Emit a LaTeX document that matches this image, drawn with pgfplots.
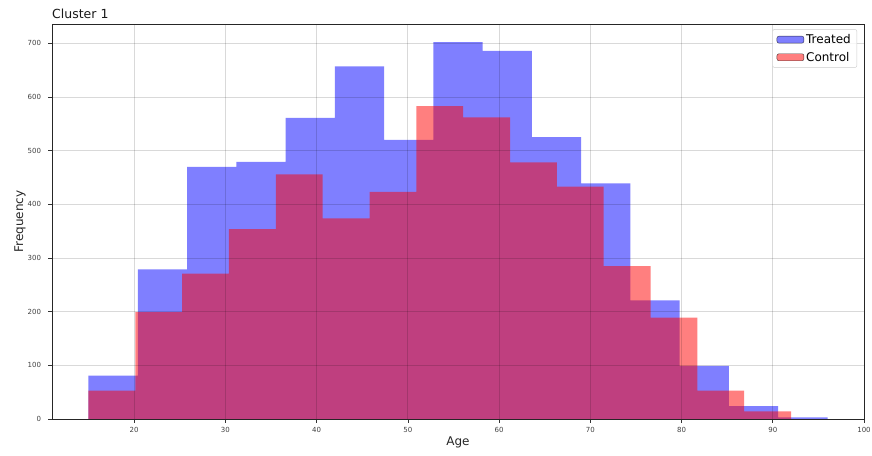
\documentclass[border=0pt]{standalone}
\usepackage{fontspec}
\setmainfont{DejaVu Sans}
\usepackage{pgfplots}
\pgfplotsset{compat=1.18}

\begin{document}
\begin{tikzpicture}
\useasboundingbox (-52pt,-36pt) rectangle (820pt,419pt);
\begin{axis}[
  at={(0,0)}, anchor=south west,
  scale only axis, width=812pt, height=395pt,
  xmin=11, xmax=100, ymin=0, ymax=736,
  xtick={20,30,...,100}, ytick={0,100,...,700},
  tick label style={font=\fontsize{7}{8}\selectfont, text=black!75},
  yticklabel style={xshift=-4pt},
  xticklabel style={yshift=-1.5pt},
  /pgf/number format/assume math mode=true,
  tick align=outside, tick pos=left, major tick length=3.5pt,
  tick style={black!80, line width=0.6pt},
  grid=major, major grid style={black, opacity=0.15, line width=0.8pt},
  axis on top,
  axis line style={black!85, line width=0.8pt},
  xlabel={Age}, ylabel={Frequency},
  every axis x label/.style={at={(axis description cs:0.5,0)}, anchor=center, yshift=-23pt, font=\fontsize{12}{14}\selectfont, text=black!85},
  every axis y label/.style={at={(axis description cs:-0.0394,0.5)}, rotate=90, anchor=center, font=\fontsize{12}{14}\selectfont, text=black!85},
  title={Cluster 1},
  every axis title/.style={at={(axis description cs:0,1)}, anchor=base west, inner sep=0pt, yshift=5pt, font=\fontsize{12.5}{14}\selectfont, text=black!90},
  legend style={at={(axis description cs:0.9914,0.987)}, anchor=north east,
    font=\fontsize{12}{14}\selectfont, draw=black!20, fill=white, fill opacity=0.8, text opacity=1,
    rounded corners=2pt, row sep=3pt, inner xsep=4pt, inner ysep=3pt},
  legend cell align=left,
]
\addplot[ybar interval, fill=blue, fill opacity=0.5, draw=none,
  legend image code/.code={\draw[fill=blue, fill opacity=0.5, draw=black, draw opacity=0.7] (0pt,-3.5pt) rectangle (27pt,3.5pt);}]
  coordinates {
  (15,81) (20.4,279) (25.8,470) (31.2,479) (36.6,561) (42,657) (47.4,520)
  (52.8,702) (58.2,686) (63.6,525) (69,439) (74.4,221) (79.8,99) (85.2,24)
  (90.6,3) (96,3)
  };
\addlegendentry{Treated}
\addplot[ybar interval, fill=red, fill opacity=0.5, draw=none,
  legend image code/.code={\draw[fill=red, fill opacity=0.5, draw=black, draw opacity=0.7] (0pt,-3.5pt) rectangle (27pt,3.5pt);}]
  coordinates {
  (15,53) (20.133,199) (25.267,271) (30.4,354) (35.533,456) (40.667,374)
  (45.8,423) (50.933,583) (56.067,562) (61.2,478) (66.333,433) (71.467,285)
  (76.6,189) (81.733,53) (86.867,14) (92,14)
  };
\addlegendentry{Control}
\end{axis}
\end{tikzpicture}
\end{document}
